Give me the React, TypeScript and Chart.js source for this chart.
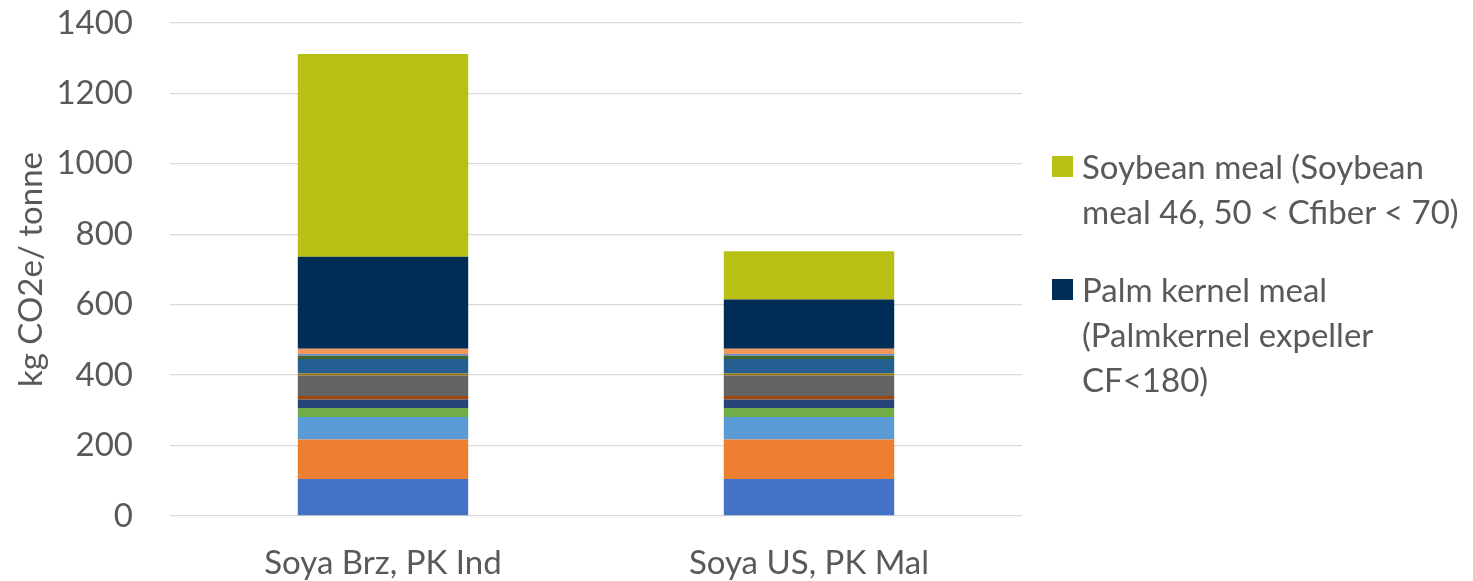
import React, { useEffect, useRef } from "react";
import { Chart, registerables } from "chart.js";

Chart.register(...registerables);

// Scenario categories on the x axis
const categories = ["Soya Brz, PK Ind", "Soya US, PK Mal"];

// Stacked emission contributions, bottom to top (kg CO2e / tonne)
const seriesA = [105, 105];
const seriesB = [112, 112];
const seriesC = [64, 64];
const seriesD = [26, 26];
const seriesE = [24, 24];
const seriesF = [10, 10];
const seriesG = [58, 58];
const seriesH = [6, 6];
const seriesI = [41, 41];
const seriesJ = [9, 9];
const seriesK = [5, 5];
const seriesL = [15, 15];
const palmKernelMeal = [261, 140];
const soybeanMeal = [576, 137];

const yTicks = [0, 200, 400, 600, 800, 1000, 1200, 1400];
const Y_MIN = 0;
const Y_MAX = 1400;

const SOY_COLOR = "#B8C014";
const PALM_COLOR = "#002D56";

// Legend entries shown beside the plot (top to bottom)
const legendEntries = [
  { lines: ["Soybean meal (Soybean", "meal 46, 50 < Cfiber < 70)"], color: SOY_COLOR, top: 144 },
  { lines: ["Palm kernel meal", "(Palmkernel expeller", "CF<180)"], color: PALM_COLOR, top: 267 },
];

const FONT = "Lato, 'Open Sans', sans-serif";
const TEXT = "#595959";
const FONT_SIZE = 33;

export default function App() {
  const ref = useRef<HTMLCanvasElement | null>(null);

  useEffect(() => {
    if (!ref.current) return;
    const ds = (label: string, data: number[], color: string) => ({
      label,
      data,
      backgroundColor: color,
      borderWidth: 0,
      categoryPercentage: 1,
      barPercentage: 0.4,
    });
    const chart = new Chart(ref.current, {
      type: "bar",
      data: {
        labels: categories,
        datasets: [
          ds("A", seriesA, "#4472C4"),
          ds("B", seriesB, "#ED7D31"),
          ds("C", seriesC, "#5B9BD5"),
          ds("D", seriesD, "#70AD47"),
          ds("E", seriesE, "#264478"),
          ds("F", seriesF, "#9E480E"),
          ds("G", seriesG, "#636363"),
          ds("H", seriesH, "#997300"),
          ds("I", seriesI, "#255E91"),
          ds("J", seriesJ, "#43682B"),
          ds("K", seriesK, "#698ED0"),
          ds("L", seriesL, "#F1975A"),
          ds("Palm kernel meal (Palmkernel expeller CF<180)", palmKernelMeal, PALM_COLOR),
          ds("Soybean meal (Soybean meal 46, 50 < Cfiber < 70)", soybeanMeal, SOY_COLOR),
        ],
      },
      options: {
        animation: false,
        responsive: false,
        maintainAspectRatio: false,
        layout: { autoPadding: false, padding: { left: 12, right: 451, top: 23, bottom: 0 } },
        plugins: {
          tooltip: { enabled: false },
          legend: { display: false },
        },
        scales: {
          x: {
            stacked: true,
            grid: { display: false, drawTicks: false },
            border: { display: false },
            afterFit: (axis) => {
              axis.height = 65;
            },
            ticks: {
              color: TEXT,
              font: { family: FONT, size: FONT_SIZE },
              padding: 28,
              maxRotation: 0,
            },
          },
          y: {
            stacked: true,
            min: Y_MIN,
            max: Y_MAX,
            afterBuildTicks: (axis) => {
              axis.ticks = yTicks.map((v) => ({ value: v }));
            },
            afterFit: (axis) => {
              axis.width = 158;
            },
            // invisible tick marks keep the labels clear of the plot area
            grid: {
              color: "#D9D9D9",
              lineWidth: 1.3,
              drawTicks: true,
              tickLength: 34,
              tickColor: "rgba(0,0,0,0)",
            },
            border: { display: false },
            ticks: {
              color: TEXT,
              font: { family: FONT, size: FONT_SIZE },
              padding: 3,
              stepSize: 200,
              callback: (v) => String(v),
            },
            title: {
              display: true,
              text: "kg CO2e/ tonne",
              color: TEXT,
              font: { family: FONT, size: FONT_SIZE },
              padding: { top: 0, bottom: 10 },
            },
          },
        },
      },
    });
    return () => chart.destroy();
  }, []);

  return (
    <div style={{ position: "absolute", left: 0, top: 0, width: 1473, height: 581, background: "#fff" }}>
      <canvas ref={ref} width={1473} height={581} />
      {legendEntries.map((e) => (
        <div
          key={e.lines[0]}
          style={{
            position: "absolute",
            left: 1052,
            top: e.top,
            display: "flex",
            alignItems: "flex-start",
            fontFamily: FONT,
            fontSize: FONT_SIZE,
            lineHeight: "45px",
            color: TEXT,
            whiteSpace: "nowrap",
          }}
        >
          <span
            style={{
              display: "inline-block",
              width: 21,
              height: 21,
              marginTop: 12,
              marginRight: 9,
              background: e.color,
              flex: "none",
            }}
          />
          <span>
            {e.lines.map((l) => (
              <div key={l}>{l}</div>
            ))}
          </span>
        </div>
      ))}
    </div>
  );
}
